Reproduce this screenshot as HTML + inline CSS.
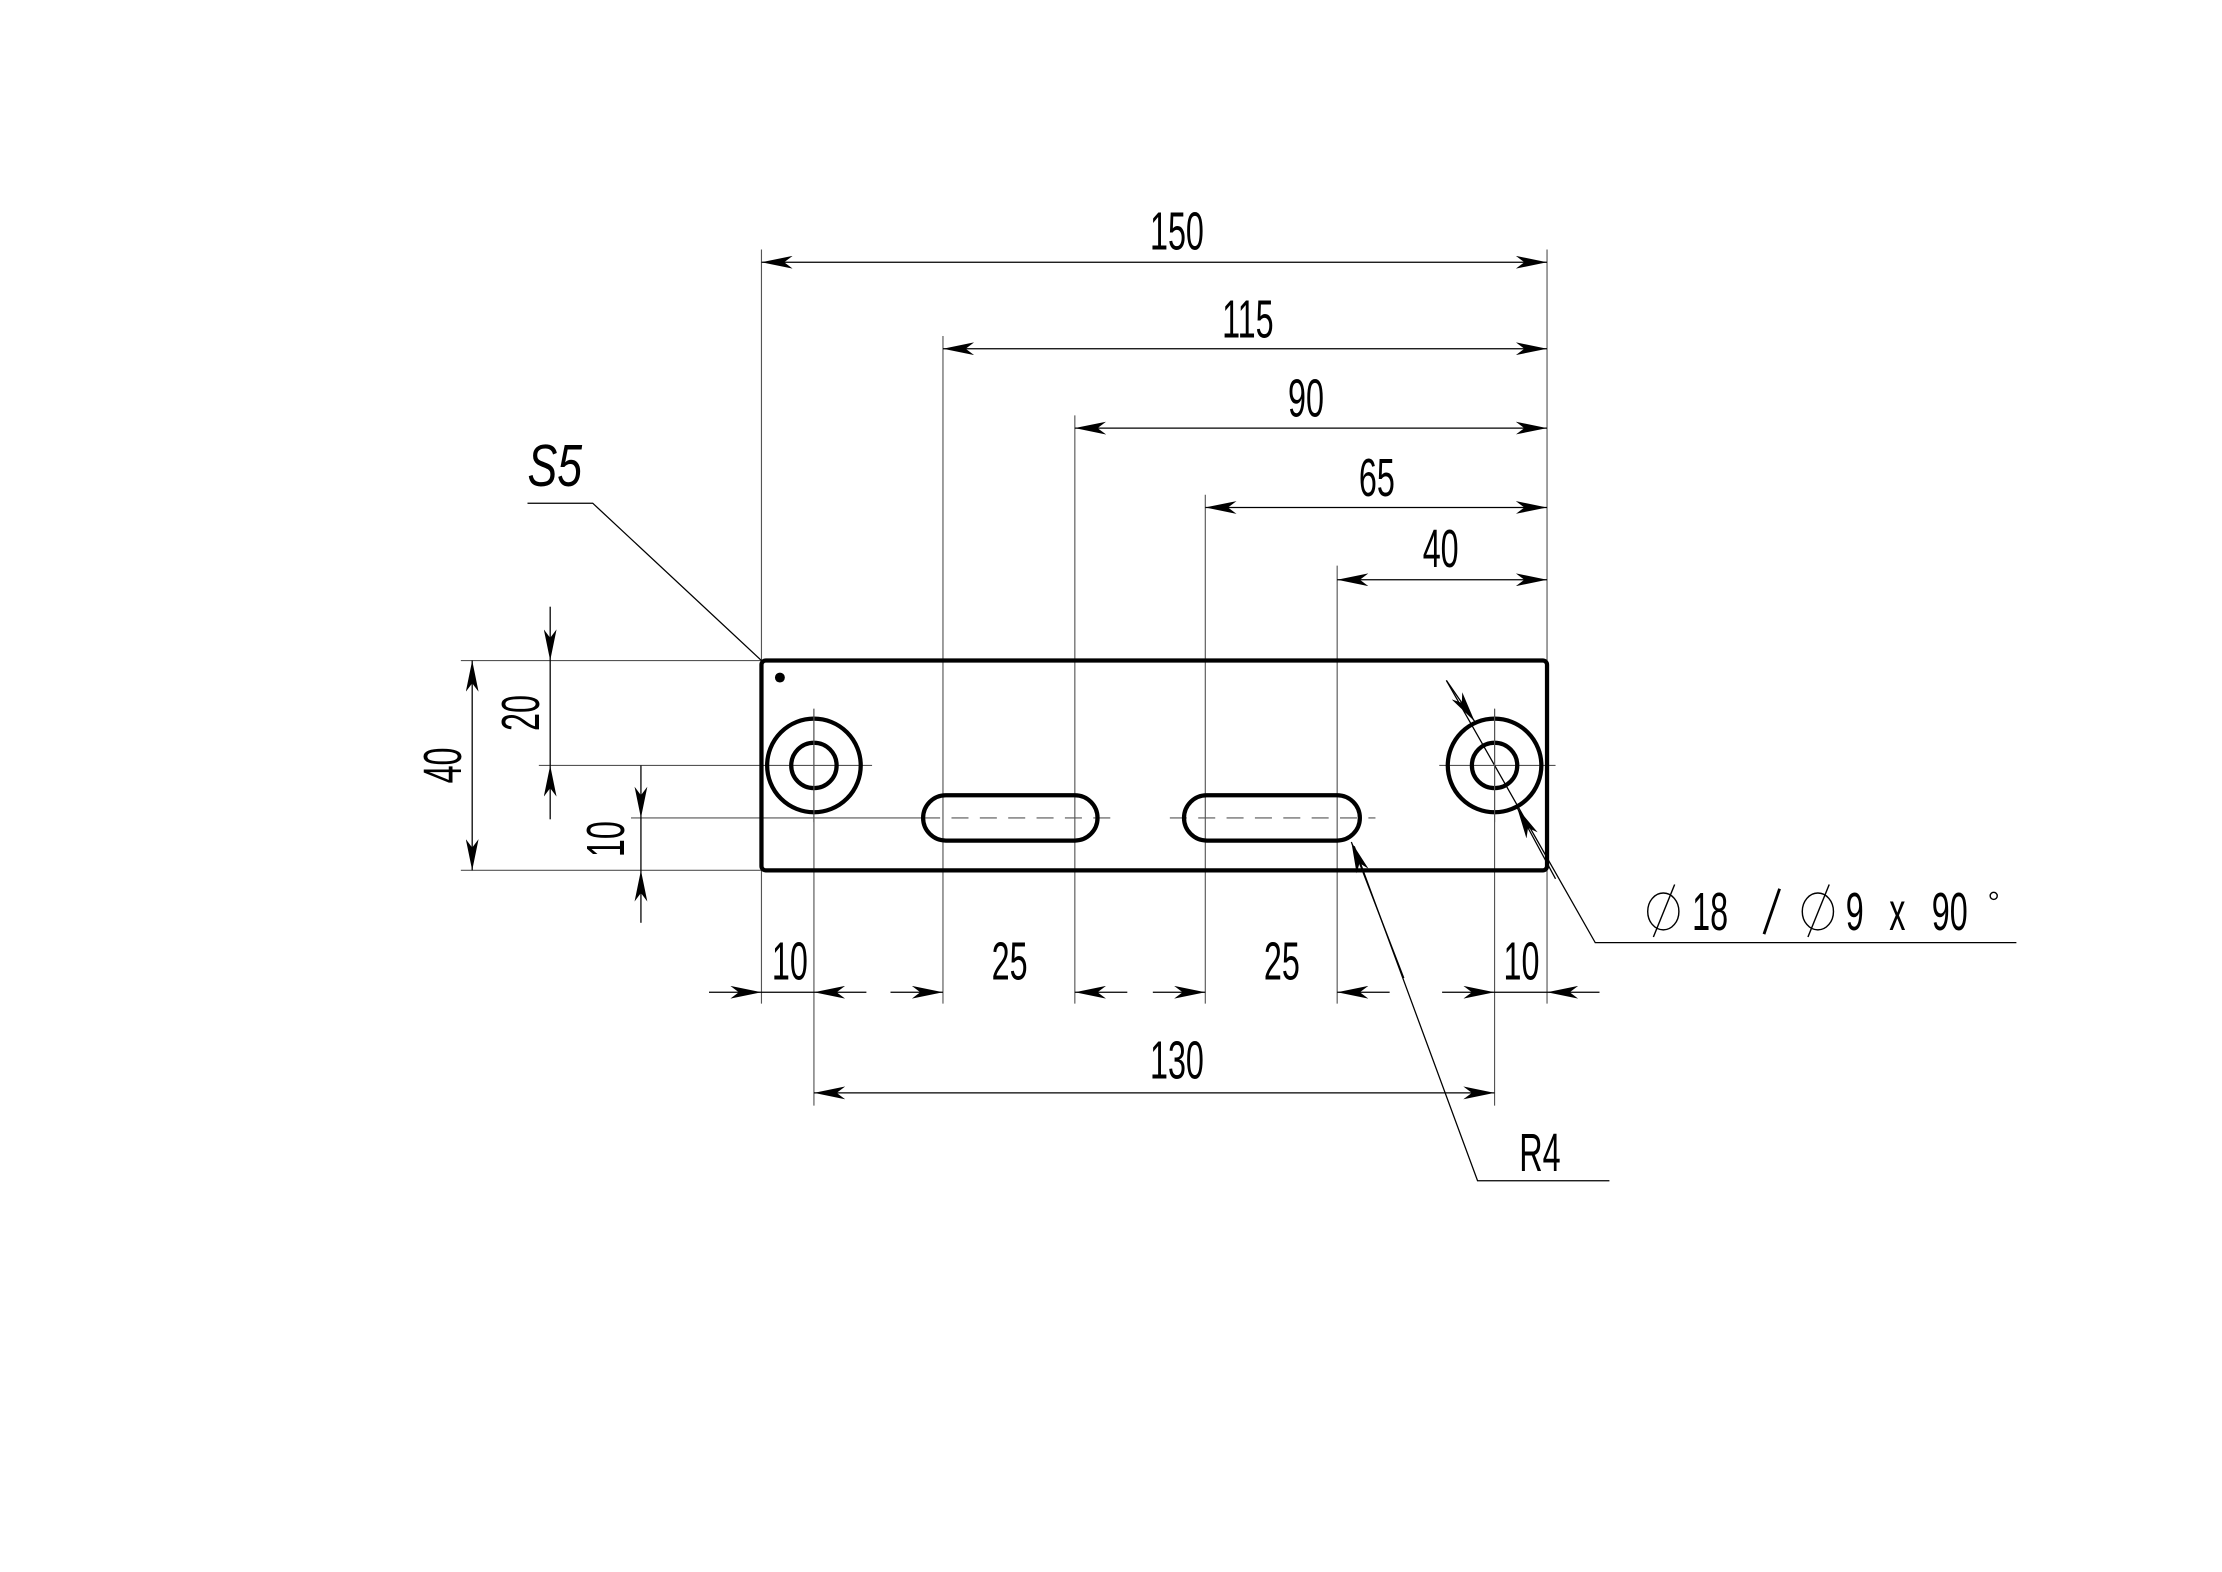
<!DOCTYPE html>
<html><head><meta charset="utf-8"><style>html,body{margin:0;padding:0;background:#fff}svg{display:block}
text{font-family:"Liberation Sans",sans-serif;fill:#000}</style></head>
<body>
<svg width="2222" height="1572" viewBox="0 0 1567 1109" preserveAspectRatio="none" xmlns="http://www.w3.org/2000/svg">
<defs>
<marker id="a" viewBox="0 0 22 9" refX="22" refY="4.5" markerWidth="22" markerHeight="9" markerUnits="userSpaceOnUse" orient="auto-start-reverse">
<path d="M0,0 L22,4.5 L0,9 L6,4.5 Z" fill="#000"/></marker>
</defs>
<rect width="1567" height="1109" fill="#fff"/>
<g stroke="#555" stroke-width="0.8" fill="none">
<line x1="537" y1="176" x2="537" y2="708"/>
<line x1="1091" y1="176" x2="1091" y2="708"/>
<line x1="665" y1="237" x2="665" y2="708"/>
<line x1="758" y1="293" x2="758" y2="708"/>
<line x1="850" y1="349" x2="850" y2="708"/>
<line x1="943" y1="399" x2="943" y2="708"/>
<line x1="574" y1="500" x2="574" y2="780"/>
<line x1="1054" y1="500" x2="1054" y2="780"/>
<line x1="325" y1="466" x2="537" y2="466"/>
<line x1="325" y1="614" x2="537" y2="614"/>
<line x1="380" y1="540" x2="615" y2="540"/>
<line x1="1015" y1="540" x2="1097" y2="540"/>
<line x1="445" y1="577" x2="651" y2="577"/>
<line x1="651" y1="577" x2="785" y2="577" stroke-dasharray="12,8"/>
<line x1="825" y1="577" x2="970" y2="577" stroke-dasharray="12,8"/>
</g>
<g stroke="#000" stroke-width="0.9" fill="none">
<line x1="537" y1="185" x2="1091" y2="185" marker-start="url(#a)" marker-end="url(#a)"/>
<line x1="665" y1="246" x2="1091" y2="246" marker-start="url(#a)" marker-end="url(#a)"/>
<line x1="758" y1="302" x2="1091" y2="302" marker-start="url(#a)" marker-end="url(#a)"/>
<line x1="850" y1="358" x2="1091" y2="358" marker-start="url(#a)" marker-end="url(#a)"/>
<line x1="943" y1="409" x2="1091" y2="409" marker-start="url(#a)" marker-end="url(#a)"/>
<line x1="500" y1="700" x2="537" y2="700" marker-end="url(#a)"/>
<line x1="611" y1="700" x2="574" y2="700" marker-end="url(#a)"/>
<line x1="628" y1="700" x2="665" y2="700" marker-end="url(#a)"/>
<line x1="795" y1="700" x2="758" y2="700" marker-end="url(#a)"/>
<line x1="813" y1="700" x2="850" y2="700" marker-end="url(#a)"/>
<line x1="980" y1="700" x2="943" y2="700" marker-end="url(#a)"/>
<line x1="1017" y1="700" x2="1054" y2="700" marker-end="url(#a)"/>
<line x1="1128" y1="700" x2="1091" y2="700" marker-end="url(#a)"/>
<line x1="537" y1="700" x2="574" y2="700"/>
<line x1="1054" y1="700" x2="1091" y2="700"/>
<line x1="574" y1="771" x2="1054" y2="771" marker-start="url(#a)" marker-end="url(#a)"/>
<line x1="333" y1="466" x2="333" y2="614" marker-start="url(#a)" marker-end="url(#a)"/>
<line x1="388" y1="428" x2="388" y2="466" marker-end="url(#a)"/>
<line x1="388" y1="578" x2="388" y2="540" marker-end="url(#a)"/>
<line x1="388" y1="466" x2="388" y2="540"/>
<line x1="452" y1="540" x2="452" y2="577" marker-end="url(#a)"/>
<line x1="452" y1="651" x2="452" y2="614" marker-end="url(#a)"/>
<line x1="452" y1="577" x2="452" y2="614"/>
<polyline points="372,355 418,355 537,466"/>
<polyline points="1422,665 1125,665 1020,480"/>
<line x1="1020" y1="480" x2="1040" y2="509" marker-end="url(#a)"/>
<line x1="1097" y1="620" x2="1070" y2="570" marker-end="url(#a)"/>
<polyline points="1135,833 1042,833 955,597"/>
<line x1="990" y1="690" x2="953" y2="594" marker-end="url(#a)"/>
</g>
<g stroke="#000" stroke-width="3" fill="none">
<rect x="537" y="466" width="554" height="148" rx="3"/>
<circle cx="574" cy="540" r="33"/>
<circle cx="574" cy="540" r="16"/>
<circle cx="1054" cy="540" r="33"/>
<circle cx="1054" cy="540" r="16"/>
<rect x="651" y="561" width="123" height="32" rx="16"/>
<rect x="835" y="561" width="124" height="32" rx="16"/>
</g>
<circle cx="550" cy="478" r="3.5" fill="#000"/>
<g stroke="#555" stroke-width="0.8">
<line x1="574" y1="500" x2="574" y2="580"/>
<line x1="1054" y1="500" x2="1054" y2="580"/>
</g>
<g stroke="#000" stroke-width="1" fill="none">
<ellipse cx="1173" cy="643" rx="11" ry="13"/>
<line x1="1166" y1="661" x2="1181" y2="624"/>
<ellipse cx="1282" cy="643" rx="11" ry="13"/>
<line x1="1275" y1="661" x2="1290" y2="624"/>
<circle cx="1406" cy="632" r="2.5"/>
<line x1="1244" y1="659" x2="1255" y2="627" stroke-width="2"/>
</g>
<g font-size="38">
<text text-anchor="middle" transform="translate(830 176) scale(0.6 1)">150</text>
<text text-anchor="middle" transform="translate(880 238) scale(0.6 1)">115</text>
<text text-anchor="middle" transform="translate(921 294) scale(0.6 1)">90</text>
<text text-anchor="middle" transform="translate(971 350) scale(0.6 1)">65</text>
<text text-anchor="middle" transform="translate(1016 400) scale(0.6 1)">40</text>
<text text-anchor="middle" transform="translate(557 691) scale(0.6 1)">10</text>
<text text-anchor="middle" transform="translate(712 691) scale(0.6 1)">25</text>
<text text-anchor="middle" transform="translate(904 691) scale(0.6 1)">25</text>
<text text-anchor="middle" transform="translate(1073 691) scale(0.6 1)">10</text>
<text text-anchor="middle" transform="translate(830 761) scale(0.6 1)">130</text>
<text text-anchor="middle" transform="translate(1086 826) scale(0.6 1)">R4</text>
<text text-anchor="middle" transform="translate(325 540) rotate(-90) scale(0.6 1)">40</text>
<text text-anchor="middle" transform="translate(380 503) rotate(-90) scale(0.6 1)">20</text>
<text text-anchor="middle" transform="translate(440 592) rotate(-90) scale(0.6 1)">10</text>
<text transform="translate(372 343) scale(0.75 1)" font-style="italic" font-size="42">S5</text>
<text text-anchor="middle" transform="translate(1206 656) scale(0.6 1)">18</text>
<text text-anchor="middle" transform="translate(1308 656) scale(0.6 1)">9</text>
<text text-anchor="middle" transform="translate(1338 656) scale(0.6 1)">x</text>
<text text-anchor="middle" transform="translate(1375 656) scale(0.6 1)">90</text>
</g>
</svg>
</body></html>
